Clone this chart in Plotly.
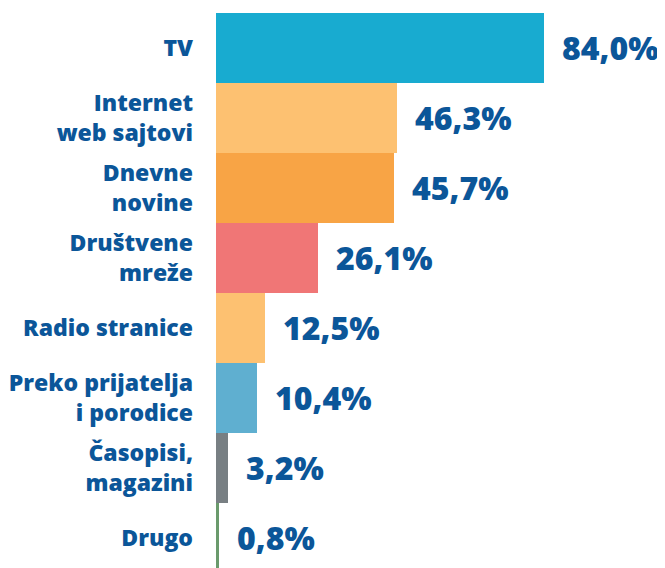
import plotly.graph_objects as go

categories = ["TV", "Internet<br>web sajtovi", "Dnevne<br>novine", "Društvene<br>mreže",
              "Radio stranice", "Preko prijatelja<br>i porodice", "Časopisi,<br>magazini", "Drugo"]
values = [84.0, 46.3, 45.7, 26.1, 12.5, 10.4, 3.2, 0.8]
value_labels = ["84,0%", "46,3%", "45,7%", "26,1%", "12,5%", "10,4%", "3,2%", "0,8%"]
colors = ["#18abd0", "#fdc171", "#f8a445", "#f07676", "#fdc171", "#5fafd0", "#787f83", "#6a9a6c"]

TXT = "#0b5699"
FONT = "Open Sans"

fig = go.Figure(go.Bar(
    x=values, y=categories, orientation="h",
    marker=dict(color=colors, line=dict(width=0)),
    width=1.0,
    hoverinfo="skip",
))

for v, lab, cat in zip(values, value_labels, categories):
    fig.add_annotation(x=v, y=cat, text=lab, showarrow=False, xanchor="left", yanchor="middle",
                       xshift=16, yshift=0,
                       font=dict(family=FONT, size=32, color=TXT, weight=800))

fig.update_layout(
    width=657, height=560,
    margin=dict(l=208, r=0, t=0, b=0),
    plot_bgcolor="white", paper_bgcolor="white",
    bargap=0, showlegend=False,
    xaxis=dict(range=[0, 115], visible=False, fixedrange=True),
    yaxis=dict(range=[7.429, -0.571], showgrid=False, zeroline=False, showline=False,
               ticks="", ticklabelstandoff=22,
               tickfont=dict(family=FONT, size=23, color=TXT, weight=800)),
)

fig.write_html("out.html")
